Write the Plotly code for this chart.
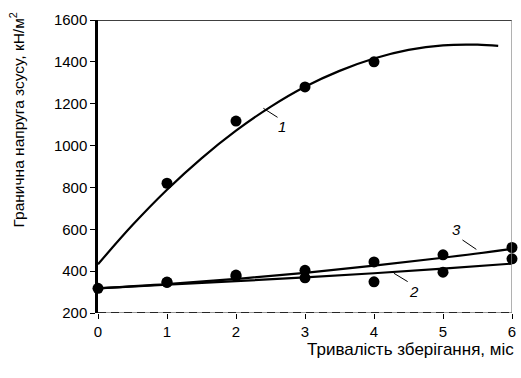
import plotly.graph_objects as go

# Measured points
x_pts = [0, 1, 2, 3, 4, 5, 6]
s1_x = [1, 2, 3, 4]
s1_y = [820, 1117, 1280, 1400]
s3_y = [318, 348, 381, 404, 444, 478, 513]
s2_y = [318, 346, 376, 368, 349, 395, 459]

# Trend curves
c1_x = [0, 0.5, 1, 1.5, 2, 2.5, 3, 3.5, 4, 4.5, 5, 5.5, 5.8]
c1_y = [433, 620, 789, 939, 1071, 1185, 1281, 1357, 1416, 1457, 1479, 1482, 1476]
c3_x = [0, 1, 2, 3, 4, 5, 6]
c3_y = [318, 338, 363, 392, 426, 464, 507]
c2_x = [0, 1, 2, 3, 4, 5, 6]
c2_y = [318, 335, 352, 370, 390, 412, 436]

x_ticks = [0, 1, 2, 3, 4, 5, 6]
y_ticks = [200, 400, 600, 800, 1000, 1200, 1400, 1600]

FONT = "Liberation Sans, Arial, sans-serif"

fig = go.Figure()
for cx, cy in [(c1_x, c1_y), (c3_x, c3_y), (c2_x, c2_y)]:
    fig.add_trace(go.Scatter(x=cx, y=cy, mode="lines", line=dict(color="black", width=2.2, shape="spline"),
                             showlegend=False, hoverinfo="skip", cliponaxis=False))

all_x = x_pts + x_pts[1:] + s1_x
all_y = s3_y + s2_y[1:] + s1_y
fig.add_trace(go.Scatter(x=all_x, y=all_y, mode="markers",
                         marker=dict(color="black", size=11), showlegend=False, cliponaxis=False))

# frame lines
fig.add_shape(type="line", xref="x", yref="y", x0=-0.04, x1=6, y0=1600, y1=1600, line=dict(color="black", width=1.3))
fig.add_shape(type="line", xref="x", yref="y", x0=6, x1=6, y0=200, y1=1600, line=dict(color="#888", width=1.3))
fig.add_shape(type="line", xref="x", yref="y", x0=0, x1=6, y0=200, y1=200, line=dict(color="#777", width=1.5))
fig.add_shape(type="line", xref="x", yref="y", x0=0, x1=6, y0=200, y1=200, line=dict(color="black", width=1.5, dash="8px,5px"))

# leader lines and labels
leaders = [((2.397, 1178), (2.602, 1135)), ((4.288, 390), (4.488, 350)), ((5.282, 549), (5.483, 504))]
for (a, b) in leaders:
    fig.add_shape(type="line", xref="x", yref="y", x0=a[0], y0=a[1], x1=b[0], y1=b[1], line=dict(color="black", width=1))
labels = [("1", 2.67, 1089), ("2", 4.575, 305), ("3", 5.19, 601)]
for t, lx, ly in labels:
    fig.add_annotation(x=lx, y=ly, xref="x", yref="y", text=f"<i>{t}</i>", showarrow=False,
                       font=dict(family=FONT, size=15, color="black"))

fig.add_annotation(xref="paper", yref="paper", x=1.0, y=0.0, yshift=-25, xshift=4, xanchor="right", yanchor="top",
                   text="Тривалість зберігання, міс", showarrow=False,
                   font=dict(family=FONT, size=17, color="black"))
fig.add_annotation(xref="paper", yref="paper", x=-0.196, y=0.66, xanchor="center", yanchor="middle",
                   textangle=-90, text="Гранична напруга зсусу, кН/м<sup>2</sup>", showarrow=False,
                   font=dict(family=FONT, size=15.5, color="black"))

fig.update_xaxes(range=[0, 6], tickvals=x_ticks, ticks="outside", ticklen=5, tickcolor="black",
                 showgrid=False, zeroline=False, showline=False,
                 tickfont=dict(family=FONT, size=15, color="black"))
fig.update_yaxes(range=[200, 1600], tickvals=y_ticks, ticks="outside", ticklen=5, tickcolor="black",
                 showgrid=False, zeroline=False, showline=True, linecolor="black", linewidth=2.5,
                 tickfont=dict(family=FONT, size=15, color="black"))
fig.update_layout(width=521, height=378, margin=dict(l=98, r=5, t=20, b=65),
                  plot_bgcolor="white", paper_bgcolor="white")
fig.write_html("out.html")
